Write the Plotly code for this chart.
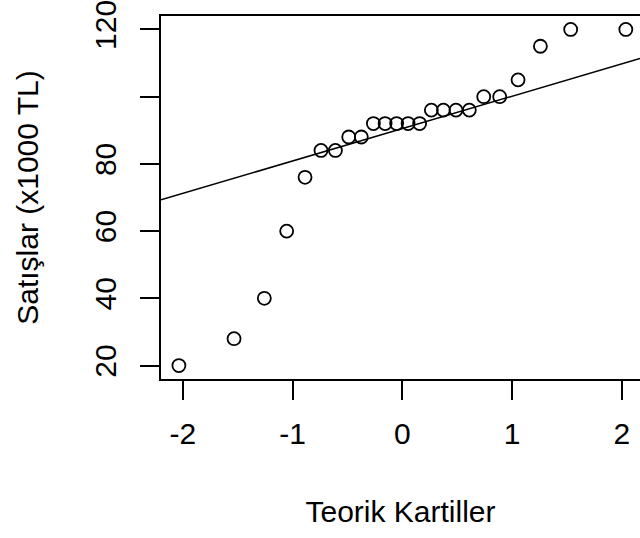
import numpy as np
import plotly.graph_objects as go
from statistics import NormalDist

# Data: sorted sales values (x1000 TL)
sales = [20, 28, 40, 60, 76, 84, 84, 88, 88, 92, 92, 92, 92, 92,
         96, 96, 96, 96, 100, 100, 105, 115, 120, 120]
x_tickvals = [-2, -1, 0, 1, 2]
x_ticktext = ["-2", "-1", "0", "1", "2"]
y_tickvals = [20, 40, 60, 80, 100, 120]
y_ticktext = ["20", "40", "60", "80", "", "120"]
x_title = "Teorik Kartiller"
y_title = "Satışlar (x1000 TL)"

n = len(sales)
nd = NormalDist()
a = 3 / 8 if n <= 10 else 0.5
theo = [nd.inv_cdf((i + 1 - a) / (n + 1 - 2 * a)) for i in range(n)]

# qqline through quartiles
y_q = np.percentile(sales, [25, 75])
x_q = [nd.inv_cdf(0.25), nd.inv_cdf(0.75)]
slope = (y_q[1] - y_q[0]) / (x_q[1] - x_q[0])
intercept = y_q[0] - slope * x_q[0]

x_range = [-2.2, 2.166]
y_range = [16, 124]
line_x = x_range
line_y = [intercept + slope * v for v in line_x]

FONT = "Liberation Sans, Arial, sans-serif"

fig = go.Figure()
fig.add_trace(go.Scatter(x=line_x, y=line_y, mode="lines",
                         line=dict(color="black", width=1.5),
                         hoverinfo="skip", showlegend=False))
fig.add_trace(go.Scatter(x=theo, y=sales, mode="markers",
                         marker=dict(symbol="circle-open", size=13,
                                     color="black", line=dict(width=1.8)),
                         showlegend=False, cliponaxis=False))

fig.update_layout(
    width=640, height=538,
    margin=dict(l=161, r=0, t=13, b=159),
    paper_bgcolor="white", plot_bgcolor="white",
    font=dict(family=FONT, size=30, color="black"),
    xaxis=dict(range=x_range, tickvals=x_tickvals, ticktext=x_ticktext,
               showline=True, linecolor="black", linewidth=2, mirror=True,
               ticks="outside", ticklen=19, tickwidth=2, tickcolor="black",
               showgrid=False, zeroline=False, ticklabelstandoff=8,
               ticklabeloverflow="allow",
               title=dict(text=x_title, standoff=52,
                          font=dict(family=FONT, size=30))),
    yaxis=dict(range=y_range, tickvals=y_tickvals, ticktext=y_ticktext,
               showline=True, linecolor="black", linewidth=2,
               ticks="outside", ticklen=19, tickwidth=2, tickcolor="black",
               tickangle=-90, showgrid=False, zeroline=False,
               ticklabelstandoff=12, ticklabeloverflow="allow",
               title=dict(text=y_title, standoff=42,
                          font=dict(family=FONT, size=30))),
)

fig.write_html("out.html")
